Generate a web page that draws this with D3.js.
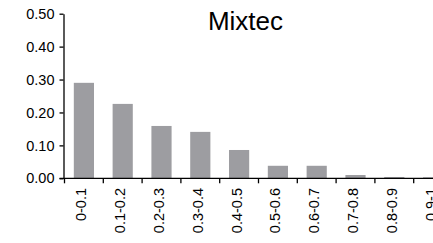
<!DOCTYPE html>
<html>
<head>
<meta charset="utf-8">
<script src="https://cdn.jsdelivr.net/npm/d3@7"></script>
<style>
  html, body { margin: 0; padding: 0; background: #fff; }
  svg { display: block; }
  text { font-family: "Liberation Sans", Arial, sans-serif; fill: #000; }
</style>
</head>
<body>
<svg id="chart" width="433" height="243"></svg>
<script>
const categories = ["0-0.1","0.1-0.2","0.2-0.3","0.3-0.4","0.4-0.5","0.5-0.6","0.6-0.7","0.7-0.8","0.8-0.9","0.9-1"];
const values = [0.29, 0.226, 0.159, 0.141, 0.086, 0.038, 0.038, 0.010, 0.004, 0.003];
const yTicks = [0, 0.1, 0.2, 0.3, 0.4, 0.5];
const title = "Mixtec";

const svg = d3.select("#chart");
const x = d3.scaleBand().domain(categories).range([64.5, 452.5]).paddingInner(0.48).paddingOuter(0.24);
const y = d3.scaleLinear().domain([0, 0.5]).range([178.3, 13.7]);
const axisX = 63.5;

// bars
svg.append("g").selectAll("rect").data(values).join("rect")
  .attr("x", (d, i) => x(categories[i]))
  .attr("y", d => y(d))
  .attr("width", x.bandwidth())
  .attr("height", d => y(0) - y(d))
  .attr("fill", "#9d9da1");

// y axis
const yAxis = svg.append("g").attr("transform", `translate(${axisX},0)`)
  .call(d3.axisLeft(y).tickValues(yTicks).tickFormat(d3.format(".2f")).tickSize(4).tickSizeOuter(0).tickPadding(5));
yAxis.select(".domain").attr("stroke", "#000").attr("stroke-width", 1.3);
yAxis.selectAll(".tick line").attr("stroke", "#000").attr("stroke-width", 1.3);
yAxis.selectAll(".tick text").style("font-size", "14.5px").style("font-family", "Liberation Sans, Arial, sans-serif");

// x axis baseline
const gap = (x.step() - x.bandwidth()) / 2;
svg.append("line").attr("x1", axisX - 4).attr("x2", 433).attr("y1", y(0)).attr("y2", y(0))
  .attr("stroke", "#000").attr("stroke-width", 1.3);
// x boundary ticks
svg.append("g").selectAll("line").data(categories).join("line")
  .attr("x1", d => x(d) - gap).attr("x2", d => x(d) - gap)
  .attr("y1", y(0)).attr("y2", y(0) + 5)
  .attr("stroke", "#000").attr("stroke-width", 1.3);
// x labels
svg.append("g").selectAll("text").data(categories).join("text")
  .attr("transform", d => `translate(${x(d) + x.bandwidth() / 2 - 2.5},188) rotate(-90)`)
  .attr("text-anchor", "end")
  .attr("dy", "0.35em")
  .style("font-size", "14.5px")
  .text(d => d);

// title
svg.append("text").attr("x", 245.5).attr("y", 30).attr("text-anchor", "middle")
  .style("font-size", "26px").text(title);
</script>
</body>
</html>
